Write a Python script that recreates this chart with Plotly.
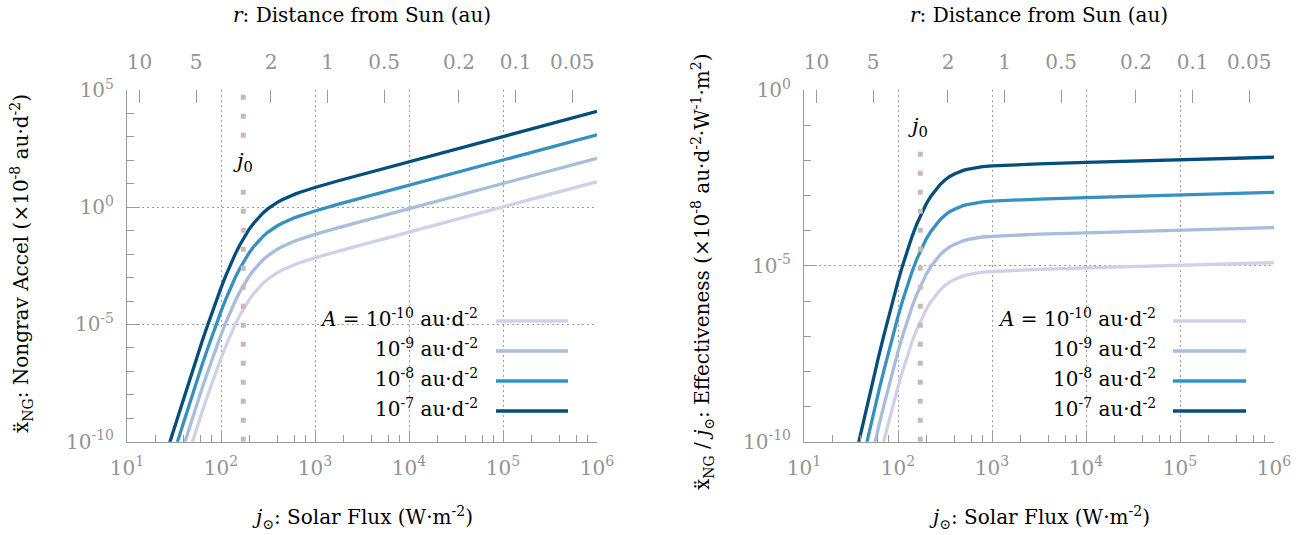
import math
import plotly.graph_objects as go

# ---------------- data ----------------
# log10 of solar flux j (W m^-2) at which the curves were sampled
log_flux = [1.35, 1.45, 1.55, 1.65, 1.75, 1.80, 1.85, 1.90, 1.95, 2.00, 2.05, 2.10,
            2.15, 2.20, 2.25, 2.30, 2.35, 2.40, 2.45, 2.50, 2.55, 2.60, 2.65, 2.70,
            2.75, 2.80, 2.85, 2.90, 3.00, 3.25, 3.50, 4.00, 4.50, 5.00, 5.50, 6.00]

# log10 of nongrav acceleration (units of 1e-8 au d^-2), one list per A
accel_A1e10 = [-14.34, -13.07, -11.80, -10.55, -9.31, -8.71, -8.12, -7.54, -6.98, -6.44, -5.93, -5.45,
               -5.01, -4.61, -4.25, -3.94, -3.67, -3.43, -3.23, -3.06, -2.91, -2.79, -2.68, -2.58,
               -2.50, -2.42, -2.35, -2.28, -2.16, -1.87, -1.60, -1.06, -0.52, 0.02, 0.55, 1.09]
accel_A1e9 = [-13.34, -12.07, -10.80, -9.55, -8.31, -7.71, -7.12, -6.54, -5.98, -5.44, -4.93, -4.45,
              -4.01, -3.61, -3.25, -2.94, -2.67, -2.43, -2.23, -2.06, -1.91, -1.79, -1.68, -1.58,
              -1.50, -1.42, -1.35, -1.28, -1.16, -0.87, -0.60, -0.06, 0.48, 1.02, 1.55, 2.09]
accel_A1e8 = [-12.34, -11.07, -9.80, -8.55, -7.31, -6.71, -6.12, -5.54, -4.98, -4.44, -3.93, -3.45,
              -3.01, -2.61, -2.25, -1.94, -1.67, -1.43, -1.23, -1.06, -0.91, -0.79, -0.68, -0.58,
              -0.50, -0.42, -0.35, -0.28, -0.16, 0.13, 0.40, 0.94, 1.48, 2.02, 2.55, 3.09]
accel_A1e7 = [-11.34, -10.07, -8.80, -7.55, -6.31, -5.71, -5.12, -4.54, -3.98, -3.44, -2.93, -2.45,
              -2.01, -1.61, -1.25, -0.94, -0.67, -0.43, -0.23, -0.06, 0.09, 0.21, 0.32, 0.42,
              0.50, 0.58, 0.65, 0.72, 0.84, 1.13, 1.40, 1.94, 2.48, 3.02, 3.55, 4.09]

# log10 of effectiveness (units of 1e-8 au d^-2 W^-1 m^2), one list per A
eff_A1e10 = [-15.69, -14.52, -13.35, -12.20, -11.06, -10.51, -9.97, -9.44, -8.93, -8.44, -7.98, -7.55,
             -7.16, -6.81, -6.50, -6.24, -6.02, -5.83, -5.68, -5.56, -5.46, -5.39, -5.33, -5.28,
             -5.25, -5.22, -5.20, -5.18, -5.16, -5.12, -5.10, -5.06, -5.02, -4.98, -4.95, -4.91]
eff_A1e9 = [-14.69, -13.52, -12.35, -11.20, -10.06, -9.51, -8.97, -8.44, -7.93, -7.44, -6.98, -6.55,
            -6.16, -5.81, -5.50, -5.24, -5.02, -4.83, -4.68, -4.56, -4.46, -4.39, -4.33, -4.28,
            -4.25, -4.22, -4.20, -4.18, -4.16, -4.12, -4.10, -4.06, -4.02, -3.98, -3.95, -3.91]
eff_A1e8 = [-13.69, -12.52, -11.35, -10.20, -9.06, -8.51, -7.97, -7.44, -6.93, -6.44, -5.98, -5.55,
            -5.16, -4.81, -4.50, -4.24, -4.02, -3.83, -3.68, -3.56, -3.46, -3.39, -3.33, -3.28,
            -3.25, -3.22, -3.20, -3.18, -3.16, -3.12, -3.10, -3.06, -3.02, -2.98, -2.95, -2.91]
eff_A1e7 = [-12.69, -11.52, -10.35, -9.20, -8.06, -7.51, -6.97, -6.44, -5.93, -5.44, -4.98, -4.55,
            -4.16, -3.81, -3.50, -3.24, -3.02, -2.83, -2.68, -2.56, -2.46, -2.39, -2.33, -2.28,
            -2.25, -2.22, -2.20, -2.18, -2.16, -2.12, -2.10, -2.06, -2.02, -1.98, -1.95, -1.91]

series_labels = ["<i>A</i> = 10<sup>-10</sup> au·d<sup>-2</sup>",
                 "10<sup>-9</sup> au·d<sup>-2</sup>",
                 "10<sup>-8</sup> au·d<sup>-2</sup>",
                 "10<sup>-7</sup> au·d<sup>-2</sup>"]
series_colors = ["#d0d1e6", "#a6bddb", "#3690c0", "#034e7b"]
accel_series = [accel_A1e10, accel_A1e9, accel_A1e8, accel_A1e7]
eff_series = [eff_A1e10, eff_A1e9, eff_A1e8, eff_A1e7]

J0 = 172.6                 # W m^-2, characteristic flux j0
SOLAR_CONSTANT = 1361.0    # W m^-2 at 1 au
r_ticks = [10, 5, 2, 1, 0.5, 0.2, 0.1, 0.05]
r_tick_text = ["10", "5", "2", "1", "0.5", "0.2", "0.1", "0.05"]

flux_major = [1e1, 1e2, 1e3, 1e4, 1e5, 1e6]
flux_major_text = ["10<sup>1</sup>", "10<sup>2</sup>", "10<sup>3</sup>",
                   "10<sup>4</sup>", "10<sup>5</sup>", "10<sup>6</sup>"]
flux_minor = [m * d for d in [1e1, 1e2, 1e3, 1e4, 1e5] for m in (2, 4, 6, 8)]

accel_major = [1e-10, 1e-5, 1e0, 1e5]
accel_major_text = ["10<sup>-10</sup>", "10<sup>-5</sup>", "10<sup>0</sup>", "10<sup>5</sup>"]
accel_minor = [10.0 ** k for k in range(-9, 5)]
eff_major = [1e-10, 1e-5, 1e0]
eff_major_text = ["10<sup>-10</sup>", "10<sup>-5</sup>", "10<sup>0</sup>"]
eff_minor = [10.0 ** k for k in range(-9, 0)]

# ---------------- style ----------------
W, H = 1314, 535
FONT = "DejaVu Serif"
GREY = "#939393"
AXGREY = "#9a9a9a"
GRID = "#9a9a9a"
J0_COLOR = "#c9b9b9"
FS = 20

def px_x(p):
    return p / W

def px_y(p):
    return 1 - p / H

L_DOM = [px_x(127), px_x(597)]
R_DOM = [px_x(804), px_x(1274)]
Y_DOM = [px_y(441.7), px_y(90)]

fig = go.Figure()

flux = [10.0 ** v for v in log_flux]

for lab, col, acc, eff in zip(series_labels, series_colors, accel_series, eff_series):
    fig.add_trace(go.Scatter(x=flux, y=[10.0 ** v for v in acc], mode="lines",
                             line=dict(color=col, width=3.3), xaxis="x", yaxis="y",
                             showlegend=False, hoverinfo="skip"))
    fig.add_trace(go.Scatter(x=flux, y=[10.0 ** v for v in eff], mode="lines",
                             line=dict(color=col, width=3.3), xaxis="x2", yaxis="y2",
                             showlegend=False, hoverinfo="skip"))

# j0 marker lines
fig.add_trace(go.Scatter(x=[J0, J0], y=[accel_major[0], accel_major[-1]], mode="lines",
                         line=dict(color=J0_COLOR, width=5, dash="5px,14px"),
                         xaxis="x", yaxis="y", showlegend=False, hoverinfo="skip"))
fig.add_trace(go.Scatter(x=[J0, J0], y=[eff_major[0], 10 ** -1.55], mode="lines",
                         line=dict(color=J0_COLOR, width=5, dash="5px,14px"),
                         xaxis="x2", yaxis="y2", showlegend=False, hoverinfo="skip"))

# invisible traces so that the top (distance) axes get drawn
fig.add_trace(go.Scatter(x=[J0], y=[1.0], mode="markers", marker=dict(opacity=0),
                         xaxis="x3", yaxis="y", showlegend=False, hoverinfo="skip"))
fig.add_trace(go.Scatter(x=[J0], y=[1e-5], mode="markers", marker=dict(opacity=0),
                         xaxis="x4", yaxis="y2", showlegend=False, hoverinfo="skip"))

tickfont = dict(family=FONT, size=FS, color=GREY)

def xbottom(domain, anchor):
    return dict(type="log", range=[1, 6], domain=domain, anchor=anchor, automargin=False,
                showline=True, linecolor=AXGREY, linewidth=1, mirror=False,
                ticks="inside", ticklen=12, tickcolor=AXGREY, tickwidth=1,
                tickmode="array", tickvals=flux_major, ticktext=flux_major_text,
                tickfont=tickfont, ticklabelstandoff=8,
                showgrid=True, gridcolor=GRID, gridwidth=1, griddash="2px,3px",
                zeroline=False,
                minor=dict(tickmode="array", tickvals=flux_minor, ticks="inside",
                           ticklen=7, tickcolor=AXGREY, tickwidth=1, showgrid=False))

def xtop(over, anchor):
    return dict(type="log", range=[1, 6], overlaying=over, side="top", anchor=anchor,
                automargin=False, showline=False, ticks="inside", ticklen=13,
                tickcolor=AXGREY, tickwidth=1, tickmode="array",
                tickvals=[SOLAR_CONSTANT / r ** 2 for r in r_ticks], ticktext=r_tick_text,
                tickfont=tickfont, ticklabelstandoff=16, showgrid=False, zeroline=False)

def yleft(rng, domain, anchor, major, major_text, minor):
    return dict(type="log", range=rng, domain=domain, anchor=anchor, automargin=False,
                showline=True, linecolor=AXGREY, linewidth=1, mirror=False,
                ticks="inside", ticklen=13, tickcolor=AXGREY, tickwidth=1,
                tickmode="array", tickvals=major, ticktext=major_text,
                tickfont=tickfont, ticklabelstandoff=8,
                showgrid=True, gridcolor=GRID, gridwidth=1, griddash="2px,3px",
                zeroline=False,
                minor=dict(tickmode="array", tickvals=minor, ticks="inside",
                           ticklen=7, tickcolor=AXGREY, tickwidth=1, showgrid=False))

annotations = []
shapes = []

title_font = dict(family=FONT, size=FS, color="black")

for (dom, xt, yt, ycenter, legend_text_right, legend_line_x0, legend_line_x1, box_x0, box_x1, ytitle_x) in [
    (L_DOM, "<i>r</i>: Distance from Sun (au)",
     "ẍ<sub>NG</sub>: Nongrav Accel (×10<sup>-8</sup> au·d<sup>-2</sup>)", 264, 480, 496, 568, 297, 581, 22),
    (R_DOM, "<i>r</i>: Distance from Sun (au)",
     "ẍ<sub>NG</sub> / <i>j</i><sub>⊙</sub>: Effectiveness (×10<sup>-8</sup> au·d<sup>-2</sup>·W<sup>-1</sup>·m<sup>2</sup>)",
     272, 1158, 1173, 1246, 975, 1259, 702),
]:
    cx = (dom[0] + dom[1]) / 2
    annotations.append(dict(text=xt, x=cx, y=px_y(15), xref="paper", yref="paper",
                            showarrow=False, font=title_font, xanchor="center", yanchor="middle"))
    annotations.append(dict(text="<i>j</i><sub>⊙</sub>: Solar Flux (W·m<sup>-2</sup>)",
                            x=cx, y=px_y(517), xref="paper", yref="paper", showarrow=False,
                            font=title_font, xanchor="center", yanchor="middle"))
    annotations.append(dict(text=yt, x=px_x(ytitle_x), y=px_y(ycenter), xref="paper", yref="paper",
                            showarrow=False, font=title_font, textangle=-90,
                            xanchor="center", yanchor="middle"))
    # legend box
    shapes.append(dict(type="rect", xref="paper", yref="paper", x0=px_x(box_x0), x1=px_x(box_x1),
                       y0=px_y(427), y1=px_y(305), fillcolor="white", line=dict(width=0),
                       layer="between"))
    for i, (lab, col) in enumerate(zip(series_labels, series_colors)):
        yrow = 321 + 30 * i
        annotations.append(dict(text=lab, x=px_x(legend_text_right), y=px_y(yrow - 3),
                                xref="paper", yref="paper", showarrow=False,
                                font=dict(family=FONT, size=FS, color="black"),
                                xanchor="right", yanchor="middle", align="right"))
        shapes.append(dict(type="line", xref="paper", yref="paper",
                           x0=px_x(legend_line_x0), x1=px_x(legend_line_x1),
                           y0=px_y(yrow), y1=px_y(yrow), line=dict(color=col, width=3.3),
                           layer="above"))

# j0 labels
annotations.append(dict(text="<i>j</i><sub>0</sub>", x=math.log10(J0), y=1.92, xref="x", yref="y",
                        showarrow=False, font=dict(family=FONT, size=21, color="black"),
                        bgcolor="white", borderpad=3, xanchor="center", yanchor="middle"))
annotations.append(dict(text="<i>j</i><sub>0</sub>", x=math.log10(J0) - 0.02, y=-1.06, xref="x2", yref="y2",
                        showarrow=False, font=dict(family=FONT, size=21, color="black"),
                        xanchor="center", yanchor="middle"))

fig.update_layout(
    width=W, height=H, autosize=False,
    margin=dict(l=0, r=0, t=0, b=0, pad=0, autoexpand=False),
    paper_bgcolor="white", plot_bgcolor="white",
    font=dict(family=FONT, size=FS, color="black"),
    showlegend=False,
    xaxis=xbottom(L_DOM, "y"),
    xaxis2=xbottom(R_DOM, "y2"),
    xaxis3=xtop("x", "y"),
    xaxis4=xtop("x2", "y2"),
    yaxis=yleft([-10, 5], Y_DOM, "x", accel_major, accel_major_text, accel_minor),
    yaxis2=yleft([-10, 0], Y_DOM, "x2", eff_major, eff_major_text, eff_minor),
    annotations=annotations,
    shapes=shapes,
)

fig.write_html("out.html")
